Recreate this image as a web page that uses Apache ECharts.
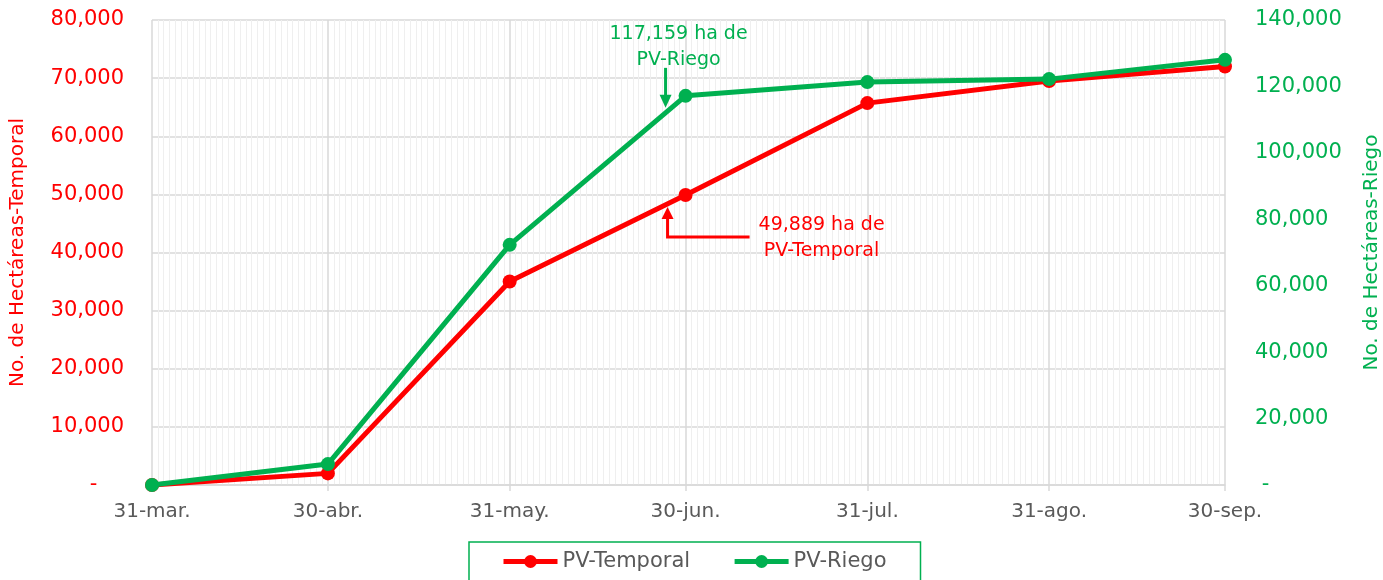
<!DOCTYPE html>
<html>
<head>
<meta charset="utf-8">
<script src="https://cdn.jsdelivr.net/npm/echarts@6/dist/echarts.min.js"></script>
<style>html,body{margin:0;padding:0;background:#fff;}#c{width:1383px;height:580px;}</style>
</head>
<body>
<div id="c"></div>
<script>
// ---- data ----
const pointDates = ['2023-03-31','2023-04-30','2023-05-31','2023-06-30','2023-07-31','2023-08-31','2023-09-30'];
const tickLabels = ['31-mar.','30-abr.','31-may.','30-jun.','31-jul.','31-ago.','30-sep.'];
const temporal = [0, 2000, 35000, 49889, 65700, 69500, 72000];
const riego = [0, 6300, 72300, 117159, 121300, 122200, 128000];
const seriesNames = ['PV-Temporal','PV-Riego'];
const leftAxisName = 'No. de Hectáreas-Temporal';
const rightAxisName = 'No. de Hectáreas-Riego';
const noteRiego = ['117,159 ha de', 'PV-Riego'];
const noteTemporal = ['49,889 ha de', 'PV-Temporal'];

// daily categories for the time axis
const dayCats = [];
{
  const d = new Date(Date.UTC(2023,2,31));
  const end = new Date(Date.UTC(2023,8,30));
  while (d <= end) { dayCats.push(d.toISOString().slice(0,10)); d.setUTCDate(d.getUTCDate()+1); }
}
const isMonthEnd = (i) => pointDates.indexOf(dayCats[i]) >= 0;

const RED = '#ff0000', GREEN = '#00b050', GRAY = '#595959';
const FONT = 'DejaVu Sans';
const fmt = (v) => v === 0 ? '-' : v.toLocaleString('en-US');

const chart = echarts.init(document.getElementById('c'), null, {renderer: 'canvas'});
const option = {
  animation: false,
  textStyle: {fontFamily: FONT},
  grid: {left: 152, right: 158, top: 20, bottom: 95, containLabel: false, outerBoundsMode: 'none'},
  legend: {
    data: seriesNames,
    left: 469, top: 542,
    padding: [9, 34, 30, 32],
    itemGap: 42,
    itemWidth: 54, itemHeight: 16,
    borderColor: GREEN, borderWidth: 1.5,
    lineStyle: {width: 5},
    textStyle: {color: GRAY, fontSize: 21, fontFamily: FONT}
  },
  xAxis: [{
    type: 'category',
    data: dayCats,
    boundaryGap: false,
    axisLine: {lineStyle: {color: '#d9d9d9', width: 1.5}},
    axisTick: {show: true, length: 6, interval: (i) => isMonthEnd(i), lineStyle: {color: '#d9d9d9', width: 1.5}},
    axisLabel: {
      interval: (i) => isMonthEnd(i),
      formatter: (v) => tickLabels[pointDates.indexOf(v)],
      color: GRAY, fontSize: 20, margin: 17, fontFamily: FONT
    },
    splitLine: {show: true, interval: (i) => isMonthEnd(i), lineStyle: {color: '#d9d9d9', width: 1.5}},
    z: 3
  }, {
    type: 'category',
    data: dayCats,
    boundaryGap: false,
    position: 'bottom',
    axisLine: {show: false}, axisTick: {show: false}, axisLabel: {show: false},
    splitLine: {show: true, interval: (i) => !isMonthEnd(i), lineStyle: {color: '#efefef', width: 1}},
    z: 1
  }],
  yAxis: [{
    type: 'value', min: 0, max: 80000, interval: 10000,
    name: leftAxisName, nameLocation: 'middle', nameRotate: 90, nameGap: 124,
    nameTextStyle: {color: RED, fontSize: 20, fontFamily: FONT},
    axisLine: {show: false}, axisTick: {show: false},
    axisLabel: {color: RED, fontSize: 21, margin: 28, fontFamily: FONT, formatter: (v) => v === 0 ? '-    ' : fmt(v)},
    splitLine: {show: true, lineStyle: {color: '#d9d9d9', width: 1.5}}
  }, {
    type: 'value', min: 0, max: 140000, interval: 20000, position: 'right',
    name: rightAxisName, nameLocation: 'middle', nameRotate: 90, nameGap: 137,
    nameTextStyle: {color: GREEN, fontSize: 20, fontFamily: FONT},
    axisLine: {show: false}, axisTick: {show: false},
    axisLabel: {color: GREEN, fontSize: 21, margin: 30, fontFamily: FONT, formatter: (v) => v === 0 ? ' -' : fmt(v)},
    splitLine: {show: false}
  }],
  series: [{
    name: seriesNames[0], type: 'line', xAxisIndex: 0, yAxisIndex: 0,
    data: pointDates.map((d, i) => [dayCats.indexOf(d), temporal[i]]),
    color: RED, lineStyle: {width: 5, color: RED}, itemStyle: {color: RED},
    symbol: 'circle', symbolSize: 14, z: 4
  }, {
    name: seriesNames[1], type: 'line', xAxisIndex: 0, yAxisIndex: 1,
    data: pointDates.map((d, i) => [dayCats.indexOf(d), riego[i]]),
    color: GREEN, lineStyle: {width: 5, color: GREEN}, itemStyle: {color: GREEN},
    symbol: 'circle', symbolSize: 14, z: 5
  }]
};
chart.setOption(option);

// annotations anchored to the 30-jun points
const idx = dayCats.indexOf(pointDates[3]);
const pR = chart.convertToPixel({xAxisIndex: 0, yAxisIndex: 1}, [idx, riego[3]]);
const pT = chart.convertToPixel({xAxisIndex: 0, yAxisIndex: 0}, [idx, temporal[3]]);
const txt = (x, y, s, c) => ({type: 'text', x: x, y: y, style: {text: s, fill: c, font: '19px "' + FONT + '"', align: 'center', verticalAlign: 'middle'}, z: 10});
const ax = pR[0] - 20;
const tx = pT[0] - 18;
chart.setOption({
  graphic: [
    txt(pR[0] - 7, pR[1] - 62, noteRiego[0], GREEN),
    txt(pR[0] - 7, pR[1] - 36, noteRiego[1], GREEN),
    {type: 'polyline', shape: {points: [[ax, pR[1] - 28], [ax, pR[1] + 4]]}, style: {stroke: GREEN, lineWidth: 3, fill: null}, z: 10},
    {type: 'polygon', shape: {points: [[ax - 6, pR[1] - 1], [ax + 6, pR[1] - 1], [ax, pR[1] + 12]]}, style: {fill: GREEN}, z: 10},
    txt(pT[0] + 136, pT[1] + 30, noteTemporal[0], RED),
    txt(pT[0] + 136, pT[1] + 56, noteTemporal[1], RED),
    {type: 'polyline', shape: {points: [[pT[0] + 64, pT[1] + 42], [tx, pT[1] + 42], [tx, pT[1] + 20]]}, style: {stroke: RED, lineWidth: 3, fill: null}, z: 10},
    {type: 'polygon', shape: {points: [[tx - 6, pT[1] + 24], [tx + 6, pT[1] + 24], [tx, pT[1] + 12]]}, style: {fill: RED}, z: 10}
  ]
});
</script>
</body>
</html>
